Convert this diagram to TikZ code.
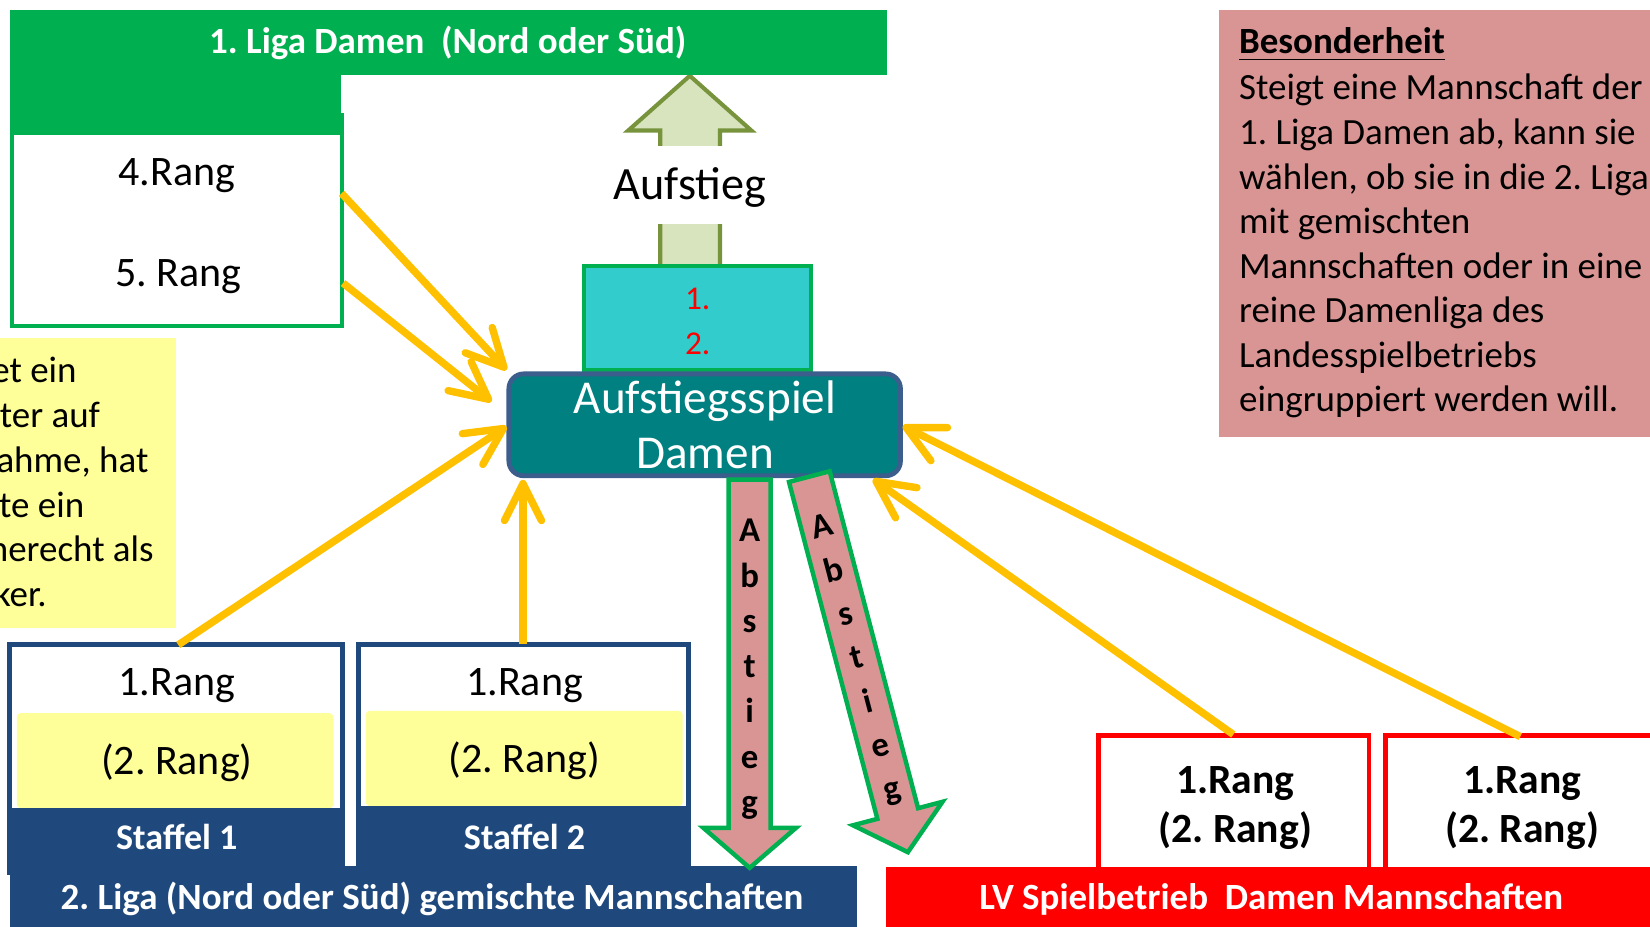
\documentclass[tikz,border=0pt]{standalone}
\usepackage{fontspec}
\setmainfont{Carlito}
\usetikzlibrary{arrows.meta,fit}
\definecolor{lgreen}{HTML}{00B050}
\definecolor{cyanbox}{HTML}{33CCCC}
\definecolor{tealbox}{HTML}{008080}
\definecolor{tealborder}{HTML}{3B5E8C}
\definecolor{navy}{HTML}{1F497D}
\definecolor{pinkbox}{HTML}{D99594}
\definecolor{noteyellow}{HTML}{FFFF99}
\definecolor{arrowyellow}{HTML}{FFC000}
\definecolor{upfill}{HTML}{D7E4BD}
\definecolor{upborder}{HTML}{77933C}
\definecolor{lvred}{HTML}{FF0000}
\newcommand{\fsz}[1]{\fontsize{#1}{#1}\selectfont}
\frenchspacing
\tikzset{
  box/.style={inner sep=0pt, outer sep=0pt},
  txt/.style={inner sep=0pt, outer sep=0pt, anchor=base},
  ltxt/.style={inner sep=0pt, outer sep=0pt, anchor=base west},
  rtxt/.style={inner sep=0pt, outer sep=0pt, anchor=base east},
  bodyfont/.style={font=\fsz{20pt}},
  rangfont/.style={font=\fsz{22.7pt}},
  yarrow/.style={draw=arrowyellow, line width=4pt, line cap=butt,
    -{Straight Barb[length=20pt,width=20pt,round]}},
  abarrow/.style={draw=lgreen, fill=pinkbox, line width=2.4pt, line join=miter},
  abl/.style={inner sep=0pt, outer sep=0pt, anchor=base, font=\bfseries\fsz{18.8pt}},
}
\begin{document}
\begin{tikzpicture}[x=0.02cm, y=-0.02cm]
\useasboundingbox (0,0) rectangle (1568,880);
\clip (0,0) rectangle (1568,880);

% --- Aufstieg arrow (up) ---
\draw[upborder, fill=upfill, line width=2.2pt, line join=miter]
  (627.4,254) -- (627.4,124) -- (597,124) -- (655.5,72) -- (714,124)
  -- (684.2,124) -- (684.2,254) -- cycle;
\node[box, fill=white, minimum width=86pt, minimum height=42.2pt] (aufmask) at (655.5,175.6) {};
\node[txt, font=\fsz{25pt}] (auftxt) at (655.5,190) {Aufstieg};

% --- 1. Liga Damen ---
\node[fit={(9.5,9.5) (843,71)}, box, fill=lgreen] (liga1) {};
\node[txt, text=white, font=\bfseries\fsz{20pt}] (liga1txt) at (425.5,50.7) {1. Liga Damen\ \ (Nord oder Süd)};

% --- 4./5. Rang box ---
\node[fit={(11.5,109) (325.3,310)}, box, draw=lgreen, line width=2.2pt, fill=white] (rang45) {};
\node[fit={(9.5,66.5) (324.5,128)}, box, fill=lgreen] (ligahead) {};
\node[txt, rangfont] (r4) at (168,175.8) {4.Rang};
\node[txt, rangfont] (r5) at (169.3,272.3) {5. Rang};

% --- yellow note (cut at left edge, as in the reference) ---
\node[fit={(0,321) (167,597)}, box, fill=noteyellow] (note) {};
\node[rtxt, bodyfont] (n1) at (72.8,363.5) {et ein};
\node[rtxt, bodyfont] (n2) at (95,406) {ter auf};
\node[rtxt, bodyfont] (n3) at (141,449) {ahme, hat};
\node[rtxt, bodyfont] (n4) at (80,491.5) {te ein};
\node[rtxt, bodyfont] (n5) at (146,533.6) {herecht als};
\node[rtxt, bodyfont] (n6) at (44.3,576.3) {ker.};

% --- Besonderheit ---
\node[fit={(1158,9.5) (1600,415)}, box, fill=pinkbox] (bes) {};
\node[ltxt, font=\bfseries\fsz{20pt}] (b0) at (1177.5,50.7) {Besonderheit};
\draw[line width=0.8pt] ([yshift=-3.3pt]b0.base west) -- ([yshift=-3.3pt]b0.base east);
\foreach \t [count=\i] in {Steigt eine Mannschaft der, {1. Liga Damen ab, kann sie}, {wählen, ob sie in die 2. Liga}, mit gemischten, Mannschaften oder in eine, reine Damenliga des, Landesspielbetriebs, eingruppiert werden will.}
  \node[ltxt, bodyfont] (b\i) at (1177.5,{95+(\i-1)*42.35}) {\t};

% --- qualification box ---
\node[fit={(554.6,253) (770.7,352)}, box, draw=lgreen, line width=2.2pt, fill=cyanbox] (qual) {};
\node[ltxt, text=lvred, font=\fsz{18pt}] (q1) at (651,294) {1.};
\node[ltxt, text=lvred, font=\fsz{18pt}] (q2) at (651,336.6) {2.};

% --- Aufstiegsspiel ---
\node[fit={(483.6,355.3) (855.7,452.1)}, box, draw=tealborder, line width=2.6pt, fill=tealbox, rounded corners=8pt] (aspiel) {};
\node[txt, text=white, font=\fsz{25.5pt}] (as1) at (670,392.8) {Aufstiegsspiel};
\node[txt, text=white, font=\fsz{25.5pt}] (as2) at (670,445) {Damen};

% --- Staffel boxes ---
\node[fit={(8.8,612.9) (325.3,829)}, box, draw=navy, line width=2.7pt, fill=white] (st1) {};
\node[fit={(16,677.7) (316.7,768)}, box, fill=noteyellow, rounded corners=2pt] (st1y) {};
\node[fit={(6.4,768) (327.7,829)}, box, fill=navy] (st1n) {};
\node[txt, rangfont] (st1a) at (168,661) {1.Rang};
\node[txt, rangfont] (st1b) at (168,736) {(2. Rang)};
\node[txt, text=white, font=\bfseries\fsz{19.5pt}] (st1c) at (168,807.5) {Staffel 1};

\node[fit={(340.9,612.9) (654.4,823)}, box, draw=navy, line width=2.7pt, fill=white] (st2) {};
\node[fit={(347.6,675.5) (648.8,766)}, box, fill=noteyellow, rounded corners=2pt] (st2y) {};
\node[fit={(338.5,766) (656.8,824)}, box, fill=navy] (st2n) {};
\node[txt, rangfont] (st2a) at (498.5,661) {1.Rang};
\node[txt, rangfont] (st2b) at (498.5,734) {(2. Rang)};
\node[txt, text=white, font=\bfseries\fsz{19.5pt}] (st2c) at (498.5,807.5) {Staffel 2};

\node[fit={(9.6,823.3) (814,885)}, box, fill=navy] (liga2) {};
\node[txt, text=white, font=\bfseries\fsz{20pt}] (liga2txt) at (410.5,864.5) {2. Liga (Nord oder Süd) gemischte Mannschaften};

% --- LV boxes ---
\node[fit={(1044,698.9) (1300.8,830)}, box, draw=lvred, line width=2.5pt, fill=white] (lv1) {};
\node[fit={(1316.7,698.9) (1620,830)}, box, draw=lvred, line width=2.5pt, fill=white] (lv2) {};
\node[txt, font=\bfseries\fsz{22.5pt}] (lv1a) at (1173.8,753.7) {1.Rang};
\node[txt, font=\bfseries\fsz{22.5pt}] (lv1b) at (1173.8,801) {(2. Rang)};
\node[txt, font=\bfseries\fsz{22.5pt}] (lv2a) at (1446.5,753.7) {1.Rang};
\node[txt, font=\bfseries\fsz{22.5pt}] (lv2b) at (1446.5,801) {(2. Rang)};
\node[fit={(841.7,824) (1600,885)}, box, fill=lvred] (lv) {};
\node[txt, text=white, font=\bfseries\fsz{20pt}] (lvtxt) at (1208,864.5) {LV Spielbetrieb\ \ Damen Mannschaften};

% --- Abstieg arrows ---
\begin{scope}[shift={(712.4,453.7)}]
  \draw[abarrow] (-20,2) -- (-20,333) -- (-44,333) -- (0,371) -- (44,333) -- (20,333) -- (20,2) -- cycle;
  \foreach \l [count=\i] in {A,b,s,t,i,e,g}
    \node[abl] (abA\i) at (0,{61.3+(\i-1)*43}) {\l};
\end{scope}
\begin{scope}[shift={(768.6,451)}, rotate=14.7]
  \draw[abarrow] (-20,2) -- (-20,333) -- (-44,333) -- (0,371) -- (44,333) -- (20,333) -- (20,2) -- cycle;
  \foreach \l [count=\i] in {A,b,s,t,i,e,g}
    \node[abl, transform shape] (abB\i) at (0,{61.3+(\i-1)*43}) {\l};
\end{scope}

% --- yellow arrows ---
\coordinate (s1) at (324.6,183.7);  \coordinate (e1) at (481.3,351.5);
\coordinate (s2) at (326,269);      \coordinate (e2) at (467,381.6);
\coordinate (s3) at (169.4,612.8);  \coordinate (e3) at (481.3,405.3);
\coordinate (s4) at (497,612);      \coordinate (e4) at (497,456);
\coordinate (s5) at (1172,698);     \coordinate (e5) at (829.7,455.4);
\coordinate (s6) at (1444.7,700);   \coordinate (e6) at (858,404.7);
\draw[yarrow] (s1) -- (e1);
\draw[yarrow] (s2) -- (e2);
\draw[yarrow] (s3) -- (e3);
\draw[yarrow] (s4) -- (e4);
\draw[yarrow] (s5) -- (e5);
\draw[yarrow] (s6) -- (e6);
\end{tikzpicture}
\end{document}
